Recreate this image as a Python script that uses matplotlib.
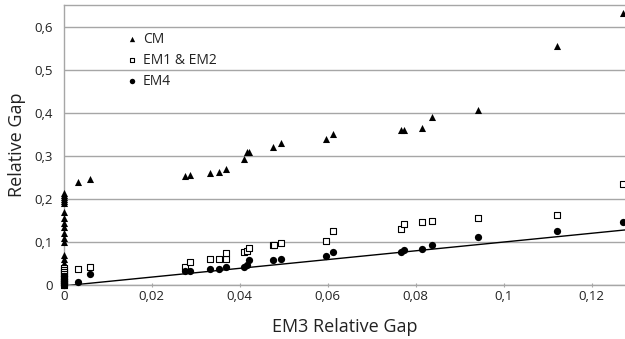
import matplotlib
matplotlib.use("Agg")
import matplotlib.pyplot as plt
from matplotlib.ticker import FixedLocator

plt.rcParams['font.family'] = ['Open Sans', 'DejaVu Sans']

# x values (EM3 relative gap) for points away from zero
x_pts = [0.0033, 0.0060, 0.0276, 0.0287, 0.0333, 0.0352, 0.0369, 0.0409, 0.0416, 0.0422,
         0.0476, 0.0495, 0.0596, 0.0613, 0.0767, 0.0773, 0.0815, 0.0838, 0.0942, 0.1122, 0.1272]
cm_pts = [0.240, 0.246, 0.2535, 0.256, 0.261, 0.263, 0.270, 0.293, 0.309, 0.309,
          0.320, 0.3295, 0.3395, 0.352, 0.361, 0.361, 0.366, 0.391, 0.407, 0.555, 0.633]
em12_pts = [0.0365, 0.041, 0.041, 0.054, 0.060, 0.060, 0.060, 0.077, 0.080, 0.085,
            0.093, 0.097, 0.103, 0.1256, 0.131, 0.1426, 0.147, 0.1495, 0.155, 0.163, 0.234]
em4_pts = [0.006, 0.0256, 0.033, 0.033, 0.0365, 0.0365, 0.041, 0.041, 0.0465, 0.0575,
           0.058, 0.060, 0.067, 0.076, 0.076, 0.081, 0.083, 0.093, 0.1116, 0.126, 0.146]
# additional EM1 & EM2 points
em12_extra_x = [0.0369, 0.0477]
em12_extra_y = [0.075, 0.092]

# values at EM3 gap = 0
cm_zero = [0.215, 0.21, 0.205, 0.2, 0.195, 0.19, 0.17, 0.155, 0.145, 0.135, 0.12, 0.11,
           0.1, 0.07, 0.06, 0.05, 0.04, 0.03, 0.02, 0.01, 0.0]
em12_zero = [0.04, 0.035, 0.03, 0.025, 0.02, 0.015, 0.01, 0.005, 0.0]
em4_zero = [0.02, 0.015, 0.01, 0.005, 0.0]

# reference line
ref_x = [0.0, 0.1276]
ref_y = [-0.002, 0.128]

x_ticks = [0, 0.02, 0.04, 0.06, 0.08, 0.1, 0.12]
x_tick_labels = ["0", "0,02", "0,04", "0,06", "0,08", "0,1", "0,12"]
y_ticks = [0, 0.1, 0.2, 0.3, 0.4, 0.5, 0.6]
y_tick_labels = ["0", "0,1", "0,2", "0,3", "0,4", "0,5", "0,6"]

fig = plt.figure(figsize=(6.25, 3.39), dpi=100)
ax = fig.add_axes([63.7/625, 54/339, (625-63.7)/625, 280/339])
ax.set_xlim(0, 0.1276)
ax.set_ylim(0, 0.651)

ax.yaxis.set_major_locator(FixedLocator(y_ticks))
ax.set_yticklabels(y_tick_labels)
ax.xaxis.set_major_locator(FixedLocator(x_ticks))
ax.set_xticklabels(x_tick_labels)
ax.grid(axis='y', color='#a6a6a6', linewidth=1.0)
ax.set_axisbelow(True)

ax.spines['right'].set_visible(False)
for s in ['left', 'top', 'bottom']:
    ax.spines[s].set_color('#a6a6a6')
    ax.spines[s].set_linewidth(1.0)
ax.tick_params(axis='y', length=0, labelsize=9.5, pad=8, colors='#222222')
ax.tick_params(axis='x', length=3, direction='inout', color='#a6a6a6', labelsize=9.5,
               labelcolor='#222222', pad=2)

ax.plot(ref_x, ref_y, color='black', linewidth=1.0, zorder=2)

ms = 26
zx_cm = [0.0] * len(cm_zero)
zx_12 = [0.0] * len(em12_zero)
zx_4 = [0.0] * len(em4_zero)

ax.scatter(x_pts + zx_cm, cm_pts + cm_zero, marker='^', s=ms, color='black',
           clip_on=False, zorder=3, label='CM', linewidths=0)
ax.scatter(x_pts + em12_extra_x + zx_12, em12_pts + em12_extra_y + em12_zero, marker='s', s=ms*0.85,
           facecolor='white', edgecolor='black', linewidths=0.8, clip_on=False, zorder=3,
           label='EM1 & EM2')
ax.scatter(x_pts + zx_4, em4_pts + em4_zero, marker='o', s=ms*1.05, color='black',
           clip_on=False, zorder=4, label='EM4', linewidths=0)

leg = ax.legend(loc='upper left', bbox_to_anchor=(0.098, 0.925), frameon=False,
                fontsize=10, handletextpad=0.25, labelspacing=0.45, borderaxespad=0,
                markerscale=0.75, handlelength=1.1)
for t in leg.get_texts():
    t.set_color('#222222')

ax.set_xlabel("EM3 Relative Gap", fontsize=13, labelpad=11, color='#222222')
ax.set_ylabel("Relative Gap", fontsize=13, labelpad=6, color='#222222')

fig.savefig("out.png", dpi=100)
